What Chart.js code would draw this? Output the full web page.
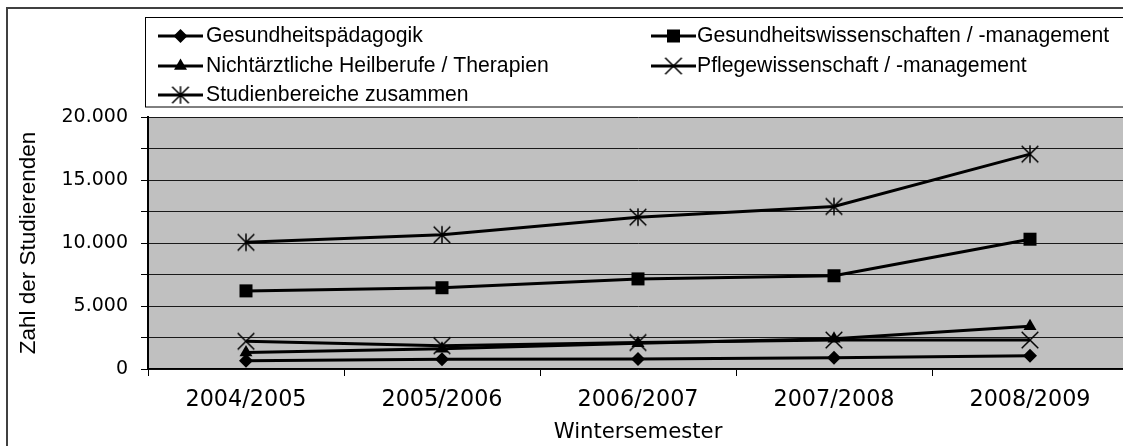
<!DOCTYPE html>
<html>
<head>
<meta charset="utf-8">
<script src="https://cdn.jsdelivr.net/npm/chart.js@4.4.1/dist/chart.umd.min.js"></script>
<style>
html,body{margin:0;padding:0;overflow:hidden;background:#fff;width:1123px;height:446px;}
canvas{display:block;}
</style>
</head>
<body>
<canvas id="c" width="1140" height="446"></canvas>
<script>
// ---- data ----
const categories = ['2004/2005', '2005/2006', '2006/2007', '2007/2008', '2008/2009'];
const seriesNames = [
  'Gesundheitspädagogik',
  'Gesundheitswissenschaften / -management',
  'Nichtärztliche Heilberufe / Therapien',
  'Pflegewissenschaft / -management',
  'Studienbereiche zusammen'
];
const gesundheitspaedagogik = [650, 780, 800, 900, 1050];
const gesundheitswissenschaften = [6200, 6450, 7150, 7400, 10300];
const nichtaerztliche = [1300, 1600, 2050, 2400, 3400];
const pflegewissenschaft = [2200, 1850, 2100, 2300, 2300];
const zusammen = [10050, 10650, 12050, 12900, 17050];
const yTickValues = [0, 5000, 10000, 15000, 20000];
const xTitle = 'Wintersemester';
const yTitle = 'Zahl der Studierenden';

// ---- custom markers ----
function makeCross(withVertical) {
  const c = document.createElement('canvas');
  c.width = 20; c.height = 20;
  const g = c.getContext('2d');
  g.strokeStyle = '#000'; g.lineWidth = 1.5;
  g.beginPath();
  g.moveTo(1.7, 1.7); g.lineTo(18.3, 18.3);
  g.moveTo(18.3, 1.7); g.lineTo(1.7, 18.3);
  if (withVertical) { g.moveTo(10, 1.3); g.lineTo(10, 18.7); }
  g.stroke();
  return c;
}
const xMarker = makeCross(false);
const starMarker = makeCross(true);

const styles = [
  {pointStyle: 'rectRot', radius: 7},
  {pointStyle: 'rect', radius: 9.2},
  {pointStyle: 'triangle', radius: 7.5},
  {pointStyle: xMarker, radius: 8},
  {pointStyle: starMarker, radius: 8}
];
const values = [gesundheitspaedagogik, gesundheitswissenschaften, nichtaerztliche, pflegewissenschaft, zusammen];

const datasets = values.map((v, i) => ({
  label: seriesNames[i],
  data: v,
  borderColor: '#000',
  backgroundColor: '#000',
  borderWidth: 3,
  tension: 0,
  pointStyle: styles[i].pointStyle,
  pointRadius: styles[i].radius,
  pointHoverRadius: styles[i].radius,
  pointBorderWidth: 0,
  pointBackgroundColor: '#000',
  pointBorderColor: '#000',
  clip: false
}));

function fmt(v) {
  return String(v).replace(/\B(?=(\d{3})+(?!\d))/g, '.');
}

const decor = {
  id: 'decor',
  beforeDraw(chart) {
    const {ctx, chartArea: a} = chart;
    ctx.save();
    ctx.fillStyle = '#fff';
    ctx.fillRect(0, 0, chart.width, chart.height);
    ctx.fillStyle = '#C0C0C0';
    ctx.fillRect(a.left, a.top, a.right - a.left, a.bottom - a.top);
    ctx.restore();
  },
  afterDraw(chart) {
    const ctx = chart.ctx;
    ctx.save();
    // outer frame
    ctx.strokeStyle = '#404040';
    ctx.lineWidth = 2;
    ctx.strokeRect(7, 8, 1200, 600);
    // legend box
    ctx.fillStyle = '#fff';
    ctx.fillRect(145, 17, 1100, 90);
    ctx.strokeStyle = '#000';
    ctx.lineWidth = 1;
    ctx.strokeRect(145.5, 17.5, 1100, 89.5);
    const colX = [158, 651];
    const textX = [206, 697];
    const rowY = [36, 66, 95];
    ctx.font = '21.2px "Liberation Sans", Arial, sans-serif';
    ctx.textBaseline = 'middle';
    ctx.textAlign = 'left';
    chart.data.datasets.forEach((ds, i) => {
      const col = i % 2, row = Math.floor(i / 2);
      const x0 = colX[col], y = rowY[row];
      ctx.strokeStyle = '#000';
      ctx.lineWidth = 3;
      ctx.beginPath();
      ctx.moveTo(x0, y); ctx.lineTo(x0 + 45, y);
      ctx.stroke();
      ctx.fillStyle = '#000';
      ctx.strokeStyle = '#000';
      Chart.helpers.drawPoint(ctx, {pointStyle: ds.pointStyle, rotation: 0, radius: ds.pointRadius, borderWidth: 0}, x0 + 22.5, y);
      ctx.fillStyle = '#000';
      ctx.fillText(ds.label, textX[col], y);
    });
    ctx.restore();
  }
};

new Chart(document.getElementById('c'), {
  type: 'line',
  data: {labels: categories, datasets},
  options: {
    responsive: false,
    animation: false,
    devicePixelRatio: 1,
    layout: {padding: {left: 0, top: 117, right: 12, bottom: 0}},
    plugins: {legend: {display: false}, tooltip: {enabled: false}},
    scales: {
      x: {
        offset: true,
        afterFit(s) { s.height = 77; },
        grid: {offset: true, drawOnChartArea: false, color: '#000', tickLength: 7, lineWidth: 1},
        border: {color: '#000', width: 1.5},
        ticks: {color: '#000', padding: 11, maxRotation: 0, font: {family: '"DejaVu Sans"', size: 22.3}},
        title: {display: true, text: xTitle, color: '#000', padding: {top: 0, bottom: 1}, font: {family: '"DejaVu Sans"', size: 21.2}}
      },
      y: {
        min: 0,
        max: yTickValues[yTickValues.length - 1],
        afterFit(s) { s.width = 148; },
        afterBuildTicks(s) {
          const t = [];
          for (let v = yTickValues[0]; v <= yTickValues[yTickValues.length - 1]; v += (yTickValues[1] - yTickValues[0]) / 2) t.push({value: v});
          s.ticks = t;
        },
        grid: {color: '#1a1a1a', tickColor: '#000', tickLength: 7, lineWidth: 1},
        border: {color: '#000', width: 2},
        ticks: {
          autoSkip: false,
          color: '#000',
          padding: 13,
          font: {family: '"DejaVu Sans"', size: 19},
          callback: (v) => yTickValues.includes(v) ? fmt(v) : ''
        },
        title: {display: true, text: yTitle, color: '#000', padding: {top: 15, bottom: 0}, font: {family: '"Liberation Sans"', size: 22.5}}
      }
    }
  },
  plugins: [decor]
});
</script>
</body>
</html>
